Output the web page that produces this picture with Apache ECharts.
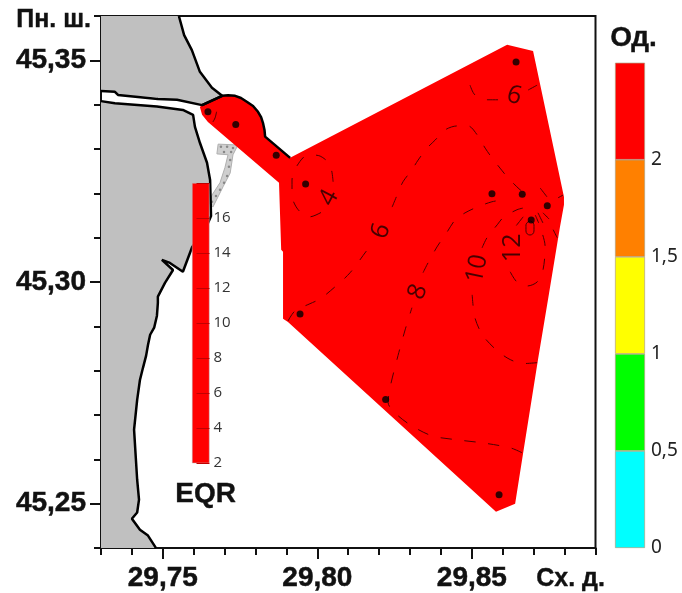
<!DOCTYPE html>
<html><head><meta charset="utf-8">
<style>html,body{margin:0;padding:0;background:#fff}#c{width:682px;height:593px}</style>
<script src="https://cdn.jsdelivr.net/npm/echarts@6/dist/echarts.min.js"></script>
</head><body><div id="c"></div>
<script>
// Lon, lat pairs
const northLand=[[29.7552,45.36],[29.7569,45.3557],[29.7594,45.3523],[29.7620,45.3474],[29.7659,45.3438],[29.7692,45.3420],[29.7627,45.3399],[29.7546,45.3411],[29.7484,45.3413],[29.7481,45.3417],[29.7355,45.3422],[29.7345,45.3429],[29.73,45.3431]];
const southCoast=[[29.73,45.3408],[29.7345,45.3403],[29.7481,45.3396],[29.7565,45.3388],[29.7598,45.3377],[29.7604,45.3350],[29.7620,45.3314],[29.7643,45.3269],[29.7653,45.3230],[29.7656,45.3149],[29.7637,45.3118],[29.7595,45.3079],[29.7565,45.3023],[29.7523,45.3043],[29.7497,45.3050],[29.7533,45.3027],[29.7507,45.2998],[29.7484,45.2967],[29.7484,45.2953],[29.7481,45.2924],[29.7472,45.2897],[29.7459,45.2881],[29.7452,45.2858],[29.7446,45.2834],[29.7436,45.2807],[29.7426,45.2779],[29.7417,45.2734],[29.7407,45.2667],[29.7413,45.2599],[29.7417,45.2554],[29.7423,45.2509],[29.7417,45.2480],[29.7400,45.2466],[29.7426,45.2441],[29.7452,45.2428],[29.7475,45.2403],[29.7478,45.24]];
const jetty=[[29.7627,45.3399],[29.7692,45.3420],[29.7711,45.3421],[29.7734,45.3420],[29.7753,45.3415],[29.7773,45.3406],[29.7792,45.3397],[29.7808,45.3384],[29.7818,45.3372],[29.7824,45.3359],[29.7829,45.3343],[29.7831,45.3328],[29.7912,45.3280]];
const fieldOutline=[[29.7620,45.3395],[29.7627,45.3399],[29.7692,45.3420],[29.7711,45.3421],[29.7734,45.3420],[29.7753,45.3415],[29.7773,45.3406],[29.7792,45.3397],[29.7808,45.3384],[29.7818,45.3372],[29.7824,45.3359],[29.7829,45.3343],[29.7831,45.3328],[29.7912,45.3280],[29.8614,45.3535],[29.8698,45.3521],[29.8798,45.3192],[29.8798,45.3174],[29.8785,45.3124],[29.8750,45.2976],[29.8714,45.2825],[29.8666,45.2615],[29.8640,45.2500],[29.8578,45.2482],[29.7905,45.2910],[29.7889,45.2917],[29.7889,45.3068],[29.7883,45.3073],[29.7876,45.3224],[29.7646,45.3361],[29.7627,45.3377]];
const breakwater=[[29.7679,45.3311],[29.7743,45.3309],[29.7727,45.3287],[29.7718,45.3246],[29.7695,45.3215],[29.7662,45.3169],[29.7650,45.3178],[29.7659,45.3196],[29.7685,45.3224],[29.7701,45.3258],[29.7711,45.3287],[29.7675,45.3289]];
const breakwaterDots=[[29.7688,45.3305],[29.7708,45.3305],[29.7727,45.3302],[29.7698,45.3293],[29.7721,45.3293],[29.7718,45.3275],[29.7714,45.3260],[29.7708,45.3239],[29.7698,45.3224],[29.7685,45.3208],[29.7672,45.3194],[29.7659,45.3181]];
const stations=[[29.7646,45.3384],[29.7736,45.3355],[29.7867,45.3286],[29.7962,45.3221],[29.8643,45.3496],[29.8565,45.3199],[29.8663,45.3198],[29.8744,45.3172],[29.8692,45.3140],[29.7944,45.2928],[29.8221,45.2735],[29.8588,45.2520]];

const contour4=[[29.8051,45.3226],[29.8041,45.3264],[29.8009,45.3284],[29.7970,45.3287],[29.7934,45.3262],[29.7918,45.3230],[29.7918,45.3196],[29.7938,45.3163],[29.7976,45.3147],[29.8015,45.3158]];
const contourWestArc=[[29.7674,45.3384],[29.7669,45.3370],[29.7662,45.3361]];
const contour6TopWest=[[29.8494,45.3444],[29.8510,45.3422],[29.8552,45.3411],[29.8598,45.3411]];
const contour6TopEast=[[29.8682,45.3433],[29.8711,45.3444]];
const contour6Lower=[[29.7905,45.2912],[29.7928,45.2935],[29.7976,45.2951],[29.8009,45.2962],[29.8057,45.2989],[29.8106,45.3021],[29.8161,45.3072],[29.8180,45.3088]];
const contour6Upper=[[29.8242,45.3169],[29.8261,45.3201],[29.8277,45.3226],[29.8306,45.3253],[29.8326,45.3275],[29.8355,45.3302],[29.8381,45.3320],[29.8413,45.3343],[29.8452,45.3352],[29.8488,45.3352],[29.8517,45.3332],[29.8543,45.3302],[29.8565,45.3280],[29.8591,45.3257],[29.8617,45.3235],[29.8656,45.3208],[29.8672,45.3201]];
const contour6East=[[29.8721,45.3212],[29.8743,45.3192]];
const contour6Edge=[[29.8779,45.3190],[29.8795,45.3196]];
const contour8Lower=[[29.8662,45.2615],[29.8624,45.2626],[29.8536,45.2637],[29.8452,45.2644],[29.8371,45.2653],[29.8300,45.2678],[29.8251,45.2705],[29.8229,45.2728],[29.8235,45.2761],[29.8261,45.2834],[29.8284,45.2892],[29.8306,45.2942]];
const contour8Upper=[[29.8342,45.3021],[29.8358,45.3043],[29.8387,45.3079],[29.8420,45.3113],[29.8446,45.3140],[29.8478,45.3156],[29.8517,45.3169],[29.8565,45.3181],[29.8601,45.3185]];
const contour10Lower=[[29.8711,45.2818],[29.8666,45.2816],[29.8624,45.2825],[29.8582,45.2845],[29.8536,45.2879],[29.8510,45.2919],[29.8501,45.2971]];
const contour10Upper=[[29.8533,45.3077],[29.8549,45.3100],[29.8582,45.3129],[29.8601,45.3145],[29.8646,45.3163],[29.8682,45.3169]];
const contour12Loop=[[29.8624,45.3023],[29.8646,45.3000],[29.8679,45.2991],[29.8711,45.3000],[29.8730,45.3027],[29.8737,45.3079],[29.8721,45.3124],[29.8705,45.3151]];
const contour12Top=[[29.8666,45.3147],[29.8640,45.3124]];
const contour14Ring=[[29.8688,45.3138],[29.8701,45.3129],[29.8701,45.3115],[29.8688,45.3106],[29.8675,45.3115],[29.8675,45.3129],[29.8688,45.3138]];
const contourFanA=[[29.8714,45.3156],[29.8730,45.3133]];
const contourFanB=[[29.8730,45.3156],[29.8750,45.3142]];
const contourFanC=[[29.8763,45.3118],[29.8776,45.3100]];
const dashedContours=[contour4,contourWestArc,contour6TopWest,contour6TopEast,contour6Lower,contour6Upper,contour6East,contour6Edge,contour8Lower,contour8Upper,contour10Lower,contour10Upper,contour12Loop,contour12Top,contourFanA,contourFanB,contourFanC];

const contourLabels=[[29.8038,45.3190,'4'],[29.8637,45.3420,'6'],[29.8206,45.3115,'6'],[29.8326,45.2978,'8'],[29.8517,45.3030,'10'],[29.8634,45.3077,'12']];
const contourLabelAngles=[62,-15,70,70,78,90];

const lonTickLabels=[29.75,29.80,29.85];
const latTickLabels=[45.25,45.30,45.35];
const eqrTop=[18];
const odBands=[0.5,0.5,0.5,0.5,0.5];
const odColors=['#00ffff','#00ff00','#ffff00','#ff8000','#ff0000'];

const comma=v=>String(v).replace('.',',');
function poly(points,style,z){
  return {type:'custom',coordinateSystem:'cartesian2d',xAxisIndex:0,yAxisIndex:0,z,silent:true,clip:true,
    data:points,encode:{x:0,y:1},
    renderItem:(p,api)=>p.dataIndex!==0?null:{type:'polygon',shape:{points:points.map(q=>api.coord(q))},style}};
}
function line(points,color,width,type,z){
  return {type:'line',xAxisIndex:0,yAxisIndex:0,data:points,showSymbol:false,symbol:'none',silent:true,z,
    smooth:type==='solid'?false:0.3,lineStyle:{color,width,type}};
}
const boldAxisText={fontFamily:'Liberation Sans',fontWeight:'bold',fontSize:28,color:'#111',textBorderColor:'#111',textBorderWidth:0.5};
const titleStyle=(text,size)=>({text,font:'bold '+size+'px "Liberation Sans"',fill:'#111',stroke:'#111',lineWidth:0.4});
const option={
  animation:false,backgroundColor:'#fff',
  grid:[
    {left:101,top:16,width:494.5,height:532,show:true,borderColor:'#111',borderWidth:2,backgroundColor:'transparent'},
    {left:192,top:183,width:17.5,height:280},
    {left:615,top:62.7,width:30,height:485.3}
  ],
  xAxis:[
    {type:'value',gridIndex:0,min:29.73,max:29.89,interval:0.01,position:'bottom',splitLine:{show:false},
      axisLine:{lineStyle:{color:'#111',width:2}},axisTick:{length:7,lineStyle:{color:'#111',width:2}},axisLabel:{show:false}},
    {type:'value',gridIndex:0,min:29.73,max:29.89,position:'bottom',splitLine:{show:false},axisLine:{show:false},
      axisTick:{show:true,customValues:lonTickLabels,length:11,lineStyle:{color:'#111',width:2}},
      axisLabel:Object.assign({show:true,customValues:lonTickLabels,margin:16,formatter:v=>v.toFixed(2).replace('.',',')},boldAxisText)},
    {type:'category',gridIndex:1,data:['EQR'],show:false},
    {type:'category',gridIndex:2,data:['Од.'],show:false}
  ],
  yAxis:[
    {type:'value',gridIndex:0,min:45.24,max:45.36,interval:0.01,position:'left',splitLine:{show:false},
      axisLine:{lineStyle:{color:'#111',width:2}},axisTick:{length:7,lineStyle:{color:'#111',width:2}},axisLabel:{show:false}},
    {type:'value',gridIndex:0,min:45.24,max:45.36,position:'left',splitLine:{show:false},axisLine:{show:false},
      axisTick:{show:true,customValues:latTickLabels,length:11,lineStyle:{color:'#111',width:2}},
      axisLabel:Object.assign({show:true,customValues:latTickLabels,margin:15,formatter:v=>v.toFixed(2).replace('.',',')},boldAxisText)},
    {type:'value',gridIndex:1,min:2,max:18,interval:2,position:'right',z:10,splitLine:{show:false},axisLine:{show:false},
      axisTick:{show:true,inside:true,length:13,lineStyle:{color:'#c00000',width:1}},
      axisLabel:{margin:4,fontFamily:'Open Sans',fontSize:15,color:'#333',formatter:v=>v===18?'':String(v)}},
    {type:'value',gridIndex:2,min:0,max:2.5,interval:0.5,position:'right',z:10,splitLine:{show:false},axisLine:{show:false},axisTick:{show:false},
      axisLabel:{margin:6,fontFamily:'Noto Sans',fontSize:19,color:'#222',formatter:v=>v===2.5?'':comma(v)}}
  ],
  series:[
    poly([[29.73,45.36],...northLand],{fill:'#c0c0c0'},1),
    poly([...southCoast,[29.73,45.24]],{fill:'#c0c0c0'},1),
    poly(breakwater,{fill:'#cfcfcf',stroke:'#b0b0b0',lineWidth:1},1),
    {type:'scatter',xAxisIndex:0,yAxisIndex:0,data:breakwaterDots,symbolSize:2.5,silent:true,z:2,itemStyle:{color:'#777'}},
    poly(fieldOutline,{fill:'#ff0000'},2),
    line(northLand,'#000',2.5,'solid',3),
    line(southCoast,'#000',2.5,'solid',3),
    line(jetty,'#000',2.5,'solid',3),
    ...dashedContours.map(c=>line(c,'#4a0000',1,[11,13],4)),
    {type:'line',xAxisIndex:0,yAxisIndex:0,data:contour14Ring,showSymbol:false,symbol:'none',silent:true,z:4,smooth:0.5,lineStyle:{color:'#4a0000',width:1}},
    {type:'scatter',xAxisIndex:0,yAxisIndex:0,data:stations,symbolSize:7,silent:true,z:5,itemStyle:{color:'#000'}},
    {type:'scatter',xAxisIndex:0,yAxisIndex:0,silent:true,z:6,symbolSize:1,itemStyle:{color:'transparent'},
      data:contourLabels.map((d,i)=>({value:[d[0],d[1]],label:{show:true,position:'inside',formatter:d[2],rotate:contourLabelAngles[i],
        fontFamily:'Open Sans',fontSize:25,color:'#1a0000'}}))},
    {type:'bar',xAxisIndex:2,yAxisIndex:2,data:eqrTop,barWidth:'100%',z:7,silent:true,itemStyle:{color:'#ff0000',borderColor:'#bbb',borderWidth:0.5}},
    ...odBands.map((v,i)=>({type:'bar',stack:'od',xAxisIndex:3,yAxisIndex:3,data:[v],barWidth:'100%',z:7,silent:true,
      itemStyle:{color:odColors[i],borderColor:'#b0a080',borderWidth:0.7}}))
  ],
  graphic:[
    {type:'text',left:16,top:7,z:20,style:titleStyle('Пн. ш.',25)},
    {type:'text',left:536,top:566,z:20,style:titleStyle('Сх. д.',25)},
    {type:'text',left:175,top:480,z:20,style:titleStyle('EQR',28)},
    {type:'text',left:610,top:24,z:20,style:titleStyle('Од.',28)}
  ]
};
echarts.init(document.getElementById('c'),null,{renderer:'canvas'}).setOption(option);
</script></body></html>
